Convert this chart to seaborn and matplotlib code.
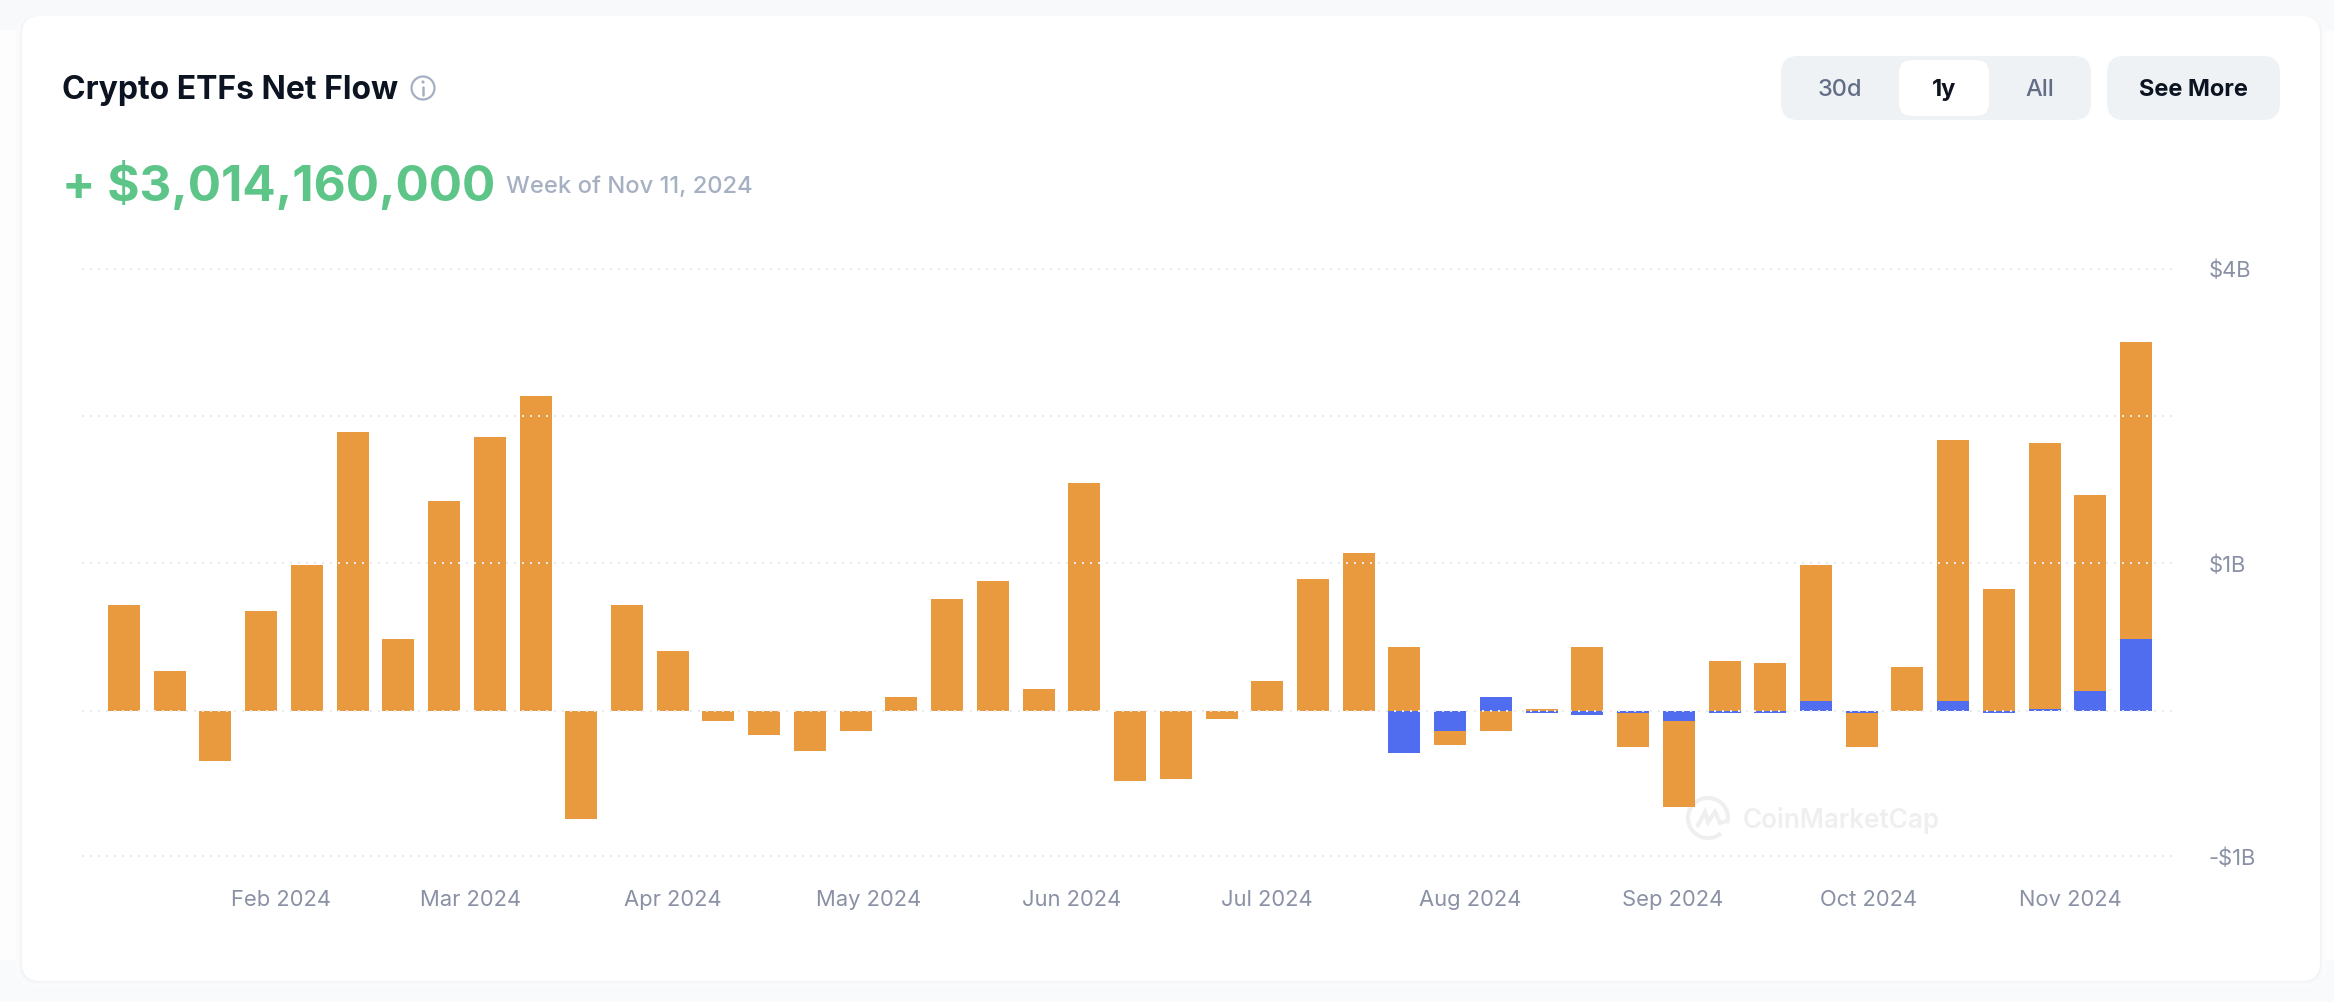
import pandas as pd
import numpy as np
import seaborn as sns
import matplotlib.pyplot as plt
from matplotlib.patches import FancyBboxPatch, Circle, Arc, Rectangle
from matplotlib.path import Path
from matplotlib.patches import PathPatch

# weekly net flow in $M
weeks = pd.date_range('2024-01-08', '2024-11-11', freq='7D')
btc_flow = [864, 326, -408, 815, 1190, 2266, 587, 1712, 2233, 2559,
            -880, 864, 489, -82, -196, -326, -163, 114, 913, 1060,
            179, 1858, -571, -554, -65, 245, 1076, 1288, 522, -114,
            -163, 16, 522, -277, -701, 408, 391, 1108, -277, 359,
            2119, 994, 2168, 1597, 2412]
eth_flow = [0, 0, 0, 0, 0, 0, 0, 0, 0, 0,
            0, 0, 0, 0, 0, 0, 0, 0, 0, 0,
            0, 0, 0, 0, 0, 0, 0, 0, -342, -163,
            114, -16, -33, -16, -82, -16, -16, 82, -16, 0,
            82, -16, 16, 163, 587]

month_ticks = ['2024-02-01', '2024-03-01', '2024-04-01', '2024-05-01', '2024-06-01',
               '2024-07-01', '2024-08-01', '2024-09-01', '2024-10-01', '2024-11-01']
month_labels = ['Feb 2024', 'Mar 2024', 'Apr 2024', 'May 2024', 'Jun 2024',
                'Jul 2024', 'Aug 2024', 'Sep 2024', 'Oct 2024', 'Nov 2024']
grid_values = [3600, 2400, 1200, 0, -1185]
grid_labels = ['$4B', '', '$1B', '', '-$1B']

ORANGE = '#E99A3E'
BLUE = '#506DEF'
GREY_TEXT = '#8A91A5'
DARK = '#0D1421'
MUTED = '#A6B0C3'
PILL = '#EFF2F5'
W, H = 2334, 1002

sns.set_theme(style='white')
plt.rcParams['font.family'] = ['Inter', 'DejaVu Sans']

df = pd.DataFrame({'week': weeks.strftime('%Y-%m-%d'), 'btc': btc_flow, 'eth': eth_flow})
# orange sits on the blue part when both go the same way
df['btc_base'] = np.where(df['btc'] * df['eth'] > 0, df['eth'], 0)

fig = plt.figure(figsize=(W / 100, H / 100), dpi=100, facecolor='#FDFDFE')

# page layer in pixel coordinates
bg = fig.add_axes([0, 0, 1, 1], zorder=0)
bg.set_xlim(0, W)
bg.set_ylim(H, 0)
bg.axis('off')


def box(ax, x0, y0, x1, y1, r, color, **kw):
    ax.add_patch(FancyBboxPatch((x0 + r, y0 + r), x1 - x0 - 2 * r, y1 - y0 - 2 * r,
                                boxstyle=f'round,pad={r},rounding_size={r}',
                                fc=color, ec='none', **kw))


# page bands above and below the card, then a soft shadow
bg.add_patch(Rectangle((0, 0), W, 30, fc='#F8F9FB', ec='none'))
bg.add_patch(Rectangle((0, 960), W, 42, fc='#F9FAFB', ec='none'))
for grow, col in [(6, '#FAFBFC'), (3, '#F7F8FA'), (1, '#F0F2F5')]:
    box(bg, 22 - grow, 16, 2320 + grow, 981 + grow, 18, col)
box(bg, 22, 16, 2320, 981, 18, 'white')

bg.text(62, 90, 'Crypto ETFs Net Flow', fontsize=23, fontweight='bold', color=DARK, va='center')
bg.add_patch(Circle((423, 88), 11.5, fc='none', ec=MUTED, lw=1.6))
bg.add_patch(Circle((423, 82), 1.6, fc=MUTED, ec='none'))
bg.plot([423, 423], [87, 95], color=MUTED, lw=1.8, solid_capstyle='round')

bg.text(62, 186, '+ $3,014,160,000', fontsize=35.6, fontweight='bold', color='#5DC588', va='center')
bg.text(506, 187, 'Week of Nov 11, 2024', fontsize=17.1, fontweight='medium', color=MUTED, va='center')

box(bg, 1781, 56, 2091, 120, 17, PILL)
box(bg, 1899, 60, 1989, 116, 13, 'white')
box(bg, 2107, 56, 2280, 120, 17, PILL)
for x, label, col, wt in [(1840, '30d', '#616E85', 'medium'), (1944, '1y', DARK, 'bold'),
                          (2040, 'All', '#616E85', 'medium'), (2193, 'See More', DARK, 'bold')]:
    bg.text(x, 89.5, label, fontsize=17, fontweight=wt, color=col, ha='center', va='center')

# watermark
WM = '#EFEFEF'
bg.add_patch(Arc((1708, 818), 40, 40, theta1=50, theta2=375, ec=WM, lw=2.9))
bg.add_patch(PathPatch(Path([(1697, 827), (1705, 812), (1708, 822), (1715, 812), (1720, 823), (1727, 821)]),
                       fc='none', ec=WM, lw=2.9))
bg.text(1743, 821, 'CoinMarketCap', fontsize=18.8, fontweight='semibold', color=WM, va='center')

# chart axes: 0 sits at y=710.8, 147.4px per 1.2B, first bar centre at x=124, 45.73px per week
left, right = 82, 2172
top, bottom = 268, 858
ax = fig.add_axes([left / W, 1 - bottom / H, (right - left) / W, (bottom - top) / H], zorder=1)
ax.patch.set_alpha(0)

sns.barplot(data=df, x='week', y='eth', color=BLUE, saturation=1, width=0.7, errorbar=None,
            linewidth=0, ax=ax)
sns.barplot(data=df, x='week', y='btc', bottom=df['btc_base'].values, color=ORANGE, saturation=1,
            width=0.7, errorbar=None, linewidth=0, ax=ax)

for v in grid_values:
    ax.axhline(v, color='#E8EAED', lw=1.44, ls=(0, (1, 3)), dash_capstyle='butt', zorder=5)

ax.set_xlim((left - 124) / 45.73, (right - 124) / 45.73)
ax.set_ylim((710.8 - bottom) * 1200 / 147.4, (710.8 - top) * 1200 / 147.4)

tick_pos = (pd.to_datetime(month_ticks) - weeks[0]).days / 7
ax.set_xticks(tick_pos, month_labels)
ax.yaxis.tick_right()
ax.set_yticks(grid_values, grid_labels)
ax.tick_params(axis='both', length=0, labelcolor=GREY_TEXT)
ax.tick_params(axis='x', pad=23, labelsize=15.8)
ax.tick_params(axis='y', pad=26.5, labelsize=15.8)
ax.set_xlabel('')
ax.set_ylabel('')
sns.despine(ax=ax, left=True, bottom=True, right=True, top=True)

fig.savefig('out.png', dpi=100, facecolor=fig.get_facecolor())
